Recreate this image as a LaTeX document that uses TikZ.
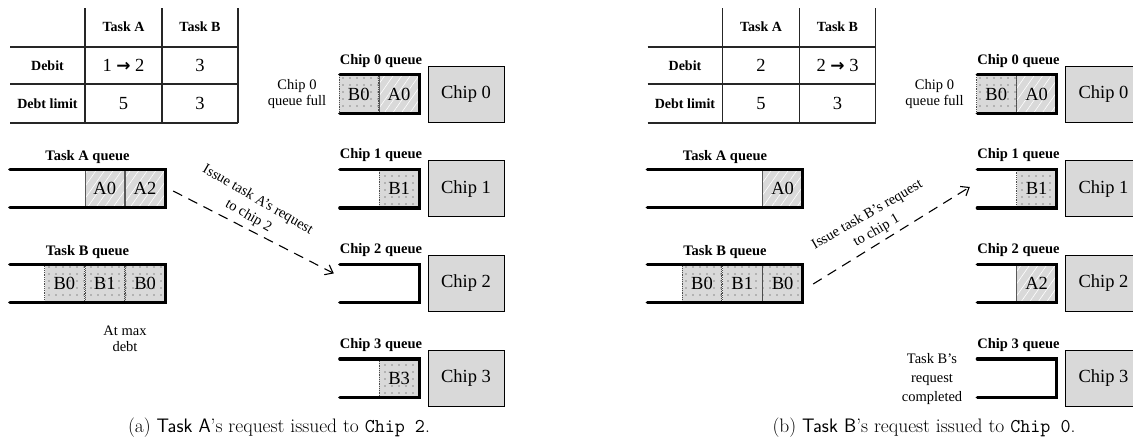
\documentclass[tikz,border=0pt]{standalone}
\usepackage{fontspec}
\newfontfamily\tnr{Liberation Serif}
\newfontfamily\djv{DejaVu Sans}
\usetikzlibrary{patterns.meta,arrows.meta}

\newcommand\fatarrow{{\djv\bfseries\fontsize{17}{17}\selectfont →}}

\tikzset{
  tbl/.style={line width=1.1pt, draw=black!85},
  hdr/.style={font=\tnr\bfseries\fontsize{14}{16}\selectfont, inner sep=0pt},
  val/.style={font=\tnr\fontsize{18.5}{20}\selectfont, inner sep=0pt},
  qlabel/.style={font=\tnr\bfseries\fontsize{14.5}{16}\selectfont, inner sep=0pt},
  note/.style={font=\tnr\fontsize{14.5}{16}\selectfont, align=center, inner sep=0pt},
  qarea/.style={minimum height=38pt, inner sep=0pt},
  qframe/.style={line width=3.2pt, line cap=round, line join=miter},
  cell/.style={minimum width=39.5pt, minimum height=38pt, inner sep=0pt,
    anchor=east, font=\tnr\fontsize{18.5}{20}\selectfont},
  cellA/.style={cell, preaction={fill=black!15},
    pattern={Lines[angle=55,distance=7pt,line width=0.6pt]}, pattern color=white,
    draw=black!65, line width=0.8pt},
  cellB/.style={cell, preaction={fill=black!15},
    pattern={Dots[distance=7pt,radius=0.7pt]}, pattern color=black!80,
    draw=black!70, line width=0.8pt, densely dotted},
  chipbox/.style={draw=black, line width=1pt, fill=black!15,
    minimum width=76pt, minimum height=56pt, inner sep=0pt,
    font=\tnr\fontsize{18.5}{20}\selectfont},
  req/.style={dashed, dash pattern=on 10pt off 7pt, line width=1.1pt,
    -{Straight Barb[length=7pt,width=11pt]}},
  reqlabel/.style={font=\tnr\fontsize{14.5}{18.5}\selectfont, align=center, inner sep=0pt},
  caption/.style={font=\fontsize{19.5}{22}\selectfont, inner sep=0pt},
}

\begin{document}
\begin{tikzpicture}[x=1pt,y=-1pt]
\useasboundingbox (0,0) rectangle (1133,442);
\clip (0,0) rectangle (1133,442);

% shared layout of both panels: debt table, chip queues and chips
\foreach \p/\dx/\da/\db in {a/0/{1 \fatarrow{} 2}/3, b/637.5/2/{2 \fatarrow{} 3}} {
  \begin{scope}[xshift=\dx]
    \draw[tbl] (10,47) -- (238,47) (10,84) -- (238,84) (10,123) -- (238,123);
    \draw[tbl] (85,8) -- (85,123) (162,8) -- (162,123) (238,8) -- (238,123);
    \node[hdr] (\p-hA) at (123.5,27) {Task A};
    \node[hdr] (\p-hB) at (200,27) {Task B};
    \node[hdr] (\p-rD) at (47.5,65.5) {Debit};
    \node[hdr] (\p-rL) at (47.5,103.5) {Debt limit};
    \node[val] (\p-dA) at (123.5,65.5) {\da};
    \node[val] (\p-dB) at (200,65.5) {\db};
    \node[val] (\p-lA) at (123.5,103.5) {5};
    \node[val] (\p-lB) at (200,103.5) {3};
    \foreach \k in {0,...,3} {
      \node[qarea, minimum width=79pt] (\p-q\k) at (379.5,{94+94.7*\k}) {};
      \node[chipbox] (\p-chip\k) at (466,{94+94.7*\k}) {Chip \k};
      \node[qlabel] (\p-ql\k) at ([shift={(1.5,-14)}]\p-q\k.north) {Chip \k{} queue};
    }
    \node[qarea, minimum width=155pt] (\p-ta) at (87.5,188.5) {};
    \node[qarea, minimum width=155pt] (\p-tb) at (87.5,283.5) {};
    \node[qlabel] (\p-tal) at (87.5,157) {Task A queue};
    \node[qlabel] (\p-tbl) at (87.5,252) {Task B queue};
    \node[note] (\p-full) at (297,94) {Chip 0\\queue full};
  \end{scope}
}

% (a) queue contents
\node[cellA] (a-q0A) at (a-q0.east) {A0};
\node[cellB] (a-q0B) at (a-q0A.west) {B0};
\node[cellB] (a-q1B) at (a-q1.east) {B1};
\node[cellB] (a-q3B) at (a-q3.east) {B3};
\node[cellA] (a-taA2) at (a-ta.east) {A2};
\node[cellA] (a-taA0) at (a-taA2.west) {A0};
\node[cellB] (a-tbB0r) at (a-tb.east) {B0};
\node[cellB] (a-tbB1) at (a-tbB0r.west) {B1};
\node[cellB] (a-tbB0l) at (a-tbB1.west) {B0};

% (b) queue contents
\node[cellA] (b-q0A) at (b-q0.east) {A0};
\node[cellB] (b-q0B) at (b-q0A.west) {B0};
\node[cellB] (b-q1B) at (b-q1.east) {B1};
\node[cellA] (b-q2A) at (b-q2.east) {A2};
\node[cellA] (b-taA0) at (b-ta.east) {A0};
\node[cellB] (b-tbB0r) at (b-tb.east) {B0};
\node[cellB] (b-tbB1) at (b-tbB0r.west) {B1};
\node[cellB] (b-tbB0l) at (b-tbB1.west) {B0};

% open-ended queue frames drawn over the cells
\foreach \q in {a-q0,a-q1,a-q2,a-q3,a-ta,a-tb,b-q0,b-q1,b-q2,b-q3,b-ta,b-tb} {
  \draw[qframe] (\q.north west) -- (\q.north east) -- (\q.south east) -- (\q.south west);
}

% annotations
\node[note] (a-max) at (125,339) {At max\\debt};
\node[note, font=\tnr\fontsize{14.5}{19}\selectfont] (b-done) at (932,379) {Task B’s\\request\\completed};

% issued requests
\draw[req] ([shift={(8,2.5)}]a-ta.east) -- ([shift={(-6,-10)}]a-q2.west);
\node[reqlabel, rotate=-30] (a-reql) at (253,208) {Issue task A’s request\\to chip 2};
\draw[req] ([shift={(10.5,0.5)}]b-tb.east) -- ([shift={(-7.5,-1.7)}]b-q1.west);
\node[reqlabel, rotate=30] (b-reql) at (872,223) {Issue task B’s request\\to chip 1};

% captions
\node[caption] (a-cap) at (279,428) {(a) \textsf{Task A}’s request issued to \texttt{Chip 2}.};
\node[caption] (b-cap) at (924,428) {(b) \textsf{Task B}’s request issued to \texttt{Chip 0}.};
\end{tikzpicture}
\end{document}
